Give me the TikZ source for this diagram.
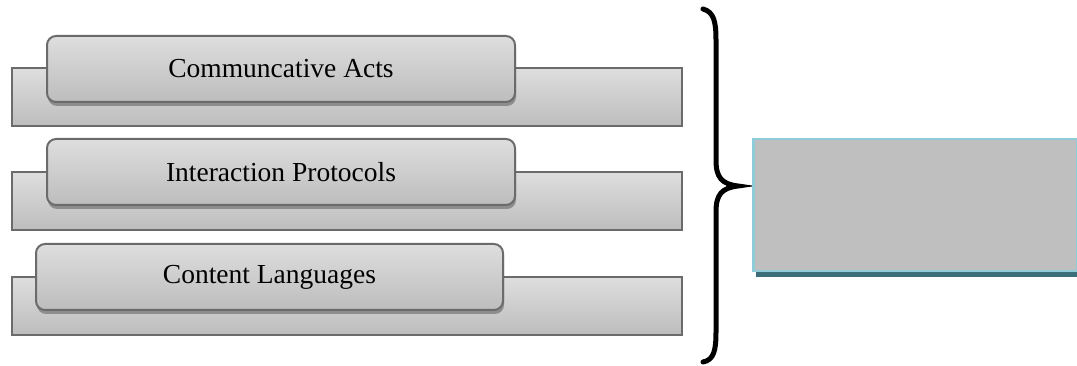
\documentclass[tikz,border=0pt]{standalone}
\usepackage{fontspec}
\setmainfont{Liberation Serif}
\usetikzlibrary{shadows}
\definecolor{boxedge}{HTML}{6B6B6B}
\definecolor{boxtop}{HTML}{DEDEDE}
\definecolor{boxbot}{HTML}{BDBDBD}
\definecolor{panelfill}{HTML}{BFBFBF}
\definecolor{paneledge}{HTML}{8FCCDA}
\definecolor{panelbase}{HTML}{3C6E7A}
\tikzset{
  backbox/.style={draw=boxedge, line width=2pt, top color=boxtop, bottom color=boxbot},
  frontbox/.style={draw=boxedge, line width=2pt, rounded corners=9pt, top color=boxtop, bottom color=boxbot,
     drop shadow={shadow xshift=1pt, shadow yshift=-4pt, fill=black, opacity=0.3}},
  lbl/.style={font=\fontsize{27.5}{30}\selectfont, inner sep=0pt}
}
\begin{document}
\begin{tikzpicture}[x=1pt,y=-1pt]
\useasboundingbox (0,0) rectangle (1077,366);
% back bars
\draw[backbox] (12,68) rectangle (682,126);
\draw[backbox] (12,172) rectangle (682,230);
\draw[backbox] (12,277) rectangle (682,335);
% front boxes
\node[frontbox, minimum width=468pt, minimum height=66pt, anchor=north west] (ca) at (46,35) {};
\node[lbl] at (ca.center) {Communcative Acts};
\node[frontbox, minimum width=468pt, minimum height=66pt, anchor=north west] (ip) at (46,138) {};
\node[lbl] at (ip.center) {Interaction Protocols};
\node[frontbox, minimum width=467pt, minimum height=66pt, anchor=north west] (cl) at (35,243) {};
\node[lbl] at (cl.center) {Content Languages};
% brace
\coordinate (bt) at (703,9);
\coordinate (bm) at (738,186);
\coordinate (bb) at (703,362);
\draw[line width=5pt, line cap=round] (bt) .. controls (714,12) and (716,22) .. (716,40)
  -- (716,160) .. controls (716,178) and (722,184) .. (bm)
  .. controls (722,188) and (716,194) .. (716,212)
  -- (716,332) .. controls (716,350) and (714,360) .. (bb);
% right panel
\fill[panelbase] (756,270) rectangle (1077,277);
\node[draw=paneledge, line width=2.5pt, fill=panelfill, anchor=north west, minimum width=324pt, minimum height=132pt, inner sep=0pt] (panel) at (752,138) {};
\end{tikzpicture}
\end{document}
